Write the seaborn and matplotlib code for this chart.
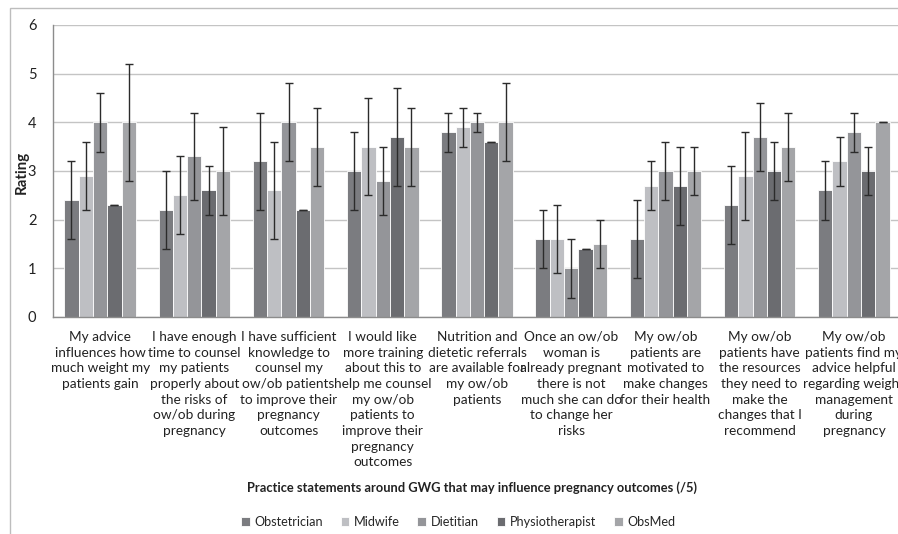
import matplotlib
matplotlib.use("Agg")
import matplotlib.pyplot as plt
from matplotlib.patches import Rectangle
import numpy as np
import pandas as pd
import seaborn as sns

statements = [
    "My advice\ninfluences how\nmuch weight my\npatients gain",
    "I have enough\ntime to counsel\nmy patients\nproperly about\nthe risks of\now/ob during\npregnancy",
    "I have sufficient\nknowledge to\ncounsel my\now/ob patients\nto improve their\npregnancy\noutcomes",
    "I would like\nmore training\nabout this to\nhelp me counsel\nmy ow/ob\npatients to\nimprove their\npregnancy\noutcomes",
    "Nutrition and\ndietetic referrals\nare available for\nmy ow/ob\npatients",
    "Once an ow/ob\nwoman is\nalready pregnant\nthere is not\nmuch she can do\nto change her\nrisks",
    "My ow/ob\npatients are\nmotivated to\nmake changes\nfor their health",
    "My ow/ob\npatients have\nthe resources\nthey need to\nmake the\nchanges that I\nrecommend",
    "My ow/ob\npatients find my\nadvice helpful\nregarding weight\nmanagement\nduring\npregnancy",
]

professions = ["Obstetrician", "Midwife", "Dietitian", "Physiotherapist", "ObsMed"]

obstetrician_mean = [2.4, 2.2, 3.2, 3.0, 3.8, 1.6, 1.6, 2.3, 2.6]
obstetrician_err = [0.8, 0.8, 1.0, 0.8, 0.4, 0.6, 0.8, 0.8, 0.6]
midwife_mean = [2.9, 2.5, 2.6, 3.5, 3.9, 1.6, 2.7, 2.9, 3.2]
midwife_err = [0.7, 0.8, 1.0, 1.0, 0.4, 0.7, 0.5, 0.9, 0.5]
dietitian_mean = [4.0, 3.3, 4.0, 2.8, 4.0, 1.0, 3.0, 3.7, 3.8]
dietitian_err = [0.6, 0.9, 0.8, 0.7, 0.2, 0.6, 0.6, 0.7, 0.4]
physio_mean = [2.3, 2.6, 2.2, 3.7, 3.6, 1.4, 2.7, 3.0, 3.0]
physio_err = [0.0, 0.5, 0.0, 1.0, 0.0, 0.0, 0.8, 0.6, 0.5]
obsmed_mean = [4.0, 3.0, 3.5, 3.5, 4.0, 1.5, 3.0, 3.5, 4.0]
obsmed_err = [1.2, 0.9, 0.8, 0.8, 0.8, 0.5, 0.5, 0.7, 0.0]

means = [obstetrician_mean, midwife_mean, dietitian_mean, physio_mean, obsmed_mean]
errs = [obstetrician_err, midwife_err, dietitian_err, physio_err, obsmed_err]

colors = ["#7b7c80", "#bebfc3", "#949599", "#6b6c70", "#a4a5a8"]

df = pd.DataFrame(
    [(s, p, m[i]) for p, m in zip(professions, means) for i, s in enumerate(statements)],
    columns=["statement", "profession", "rating"],
)

sns.set_style("white")
plt.rcParams["font.family"] = ["Lato", "DejaVu Sans"]

W, H = 898, 534
fig = plt.figure(figsize=(W / 100, H / 100), dpi=100)
ax = fig.add_axes([53 / W, (H - 317) / H, (901 - 53) / W, (317 - 25) / H])

sns.barplot(
    data=df, x="statement", y="rating", hue="profession",
    order=statements, hue_order=professions, palette=colors,
    width=0.76, errorbar=None, edgecolor="white", linewidth=0.6,
    saturation=1, ax=ax,
)

# symmetric error bars centred on each bar
for container, err in zip(ax.containers, errs):
    xs = [b.get_x() + b.get_width() / 2 for b in container]
    ys = [b.get_height() for b in container]
    ax.errorbar(xs, ys, yerr=err, fmt="none", ecolor="#2b2b2b",
                elinewidth=1.0, capsize=2.6, capthick=1.0, zorder=5)

ax.set_ylim(0, 6)
ax.set_xlim(-0.5, len(statements) - 0.5)
ax.set_yticks(range(0, 7))
ax.yaxis.grid(True, color="#c4c4c4", linewidth=1.0)
ax.set_axisbelow(True)

for side in ["top", "right"]:
    ax.spines[side].set_visible(False)
for side in ["left", "bottom"]:
    ax.spines[side].set_color("#8c8c8c")
    ax.spines[side].set_linewidth(1.0)

ax.tick_params(axis="y", length=4, color="#8c8c8c", labelsize=10.5, pad=8,
               labelcolor="#222222")
ax.tick_params(axis="x", which="major", length=0, pad=10, labelsize=9.8,
               labelcolor="#222222")
ax.set_xticks(np.arange(-0.5, len(statements)), minor=True)
ax.tick_params(axis="x", which="minor", length=5, color="#8c8c8c")
for lbl in ax.get_xticklabels():
    lbl.set_linespacing(1.37)
    lbl.set_multialignment("center")

ax.set_ylabel("Rating", fontsize=10.8, fontweight="bold", color="#222222",
              va="center")
ax.yaxis.set_label_coords((22 - 53) / 848, (317 - 172) / 292)
ax.set_xlabel("Practice statements around GWG that may influence pregnancy outcomes (/5)",
              fontsize=9.3, fontweight="bold", color="#222222", va="center")
ax.xaxis.set_label_coords((472 - 53) / 848, (317 - 488) / 292)

sns.move_legend(
    ax, "center", bbox_to_anchor=((458 - 53) / 848, (317 - 522) / 292),
    ncol=5, frameon=False, title=None, fontsize=9.1,
    handlelength=0.7, handleheight=0.7, handletextpad=0.35, columnspacing=1.4,
)

# chart frame
fig.patches.append(Rectangle((10 / W, -0.2), 2.0, 1 - 8 / H + 0.2,
                             transform=fig.transFigure, fill=False,
                             edgecolor="#bdbdbd", linewidth=1.0, zorder=0))

fig.savefig("out.png", dpi=100)
